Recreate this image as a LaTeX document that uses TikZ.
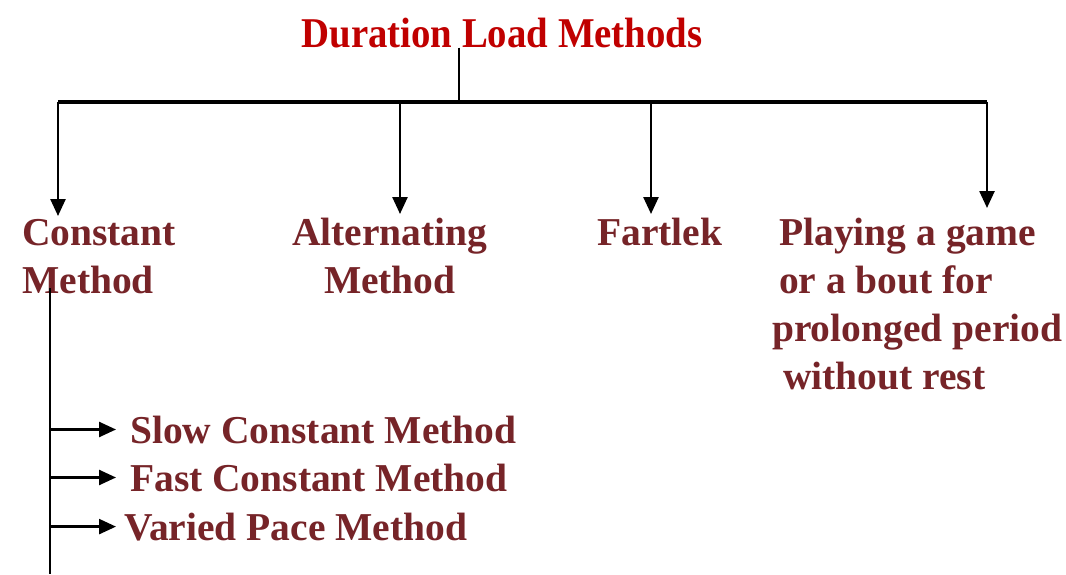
\documentclass[tikz,border=0pt]{standalone}
\usepackage{fontspec}
\setmainfont{Liberation Serif}
\usetikzlibrary{arrows.meta}
\definecolor{titlered}{RGB}{192,0,0}
\definecolor{labelmaroon}{RGB}{118,36,40}
\begin{document}
\begin{tikzpicture}[x=1pt,y=-1pt,
  lbl/.style={inner sep=0pt, text=labelmaroon,
    font=\fontsize{39.5}{48}\selectfont\bfseries, align=left},
  link/.style={line width=2.5pt, draw=black},
  drop/.style={link, -{Triangle[length=17pt,width=15pt]}}]
\useasboundingbox[fill=white] (0,0) rectangle (1066,574);

% heading
\node[anchor=base, inner sep=0pt, text=titlered,
  font=\fontsize{40}{48}\selectfont\bfseries] (title) at (502,47)
  {\scalebox{0.97}[1.06]{Duration Load Methods}};

% four methods (anchored on the baseline of their last line)
\node[lbl, anchor=base west] (constant) at (22,293) {Constant\\Method};
\node[lbl, anchor=base west, align=center] (alternating) at (292,293) {Alternating\\Method};
\node[lbl, anchor=base west] (fartlek) at (597,245) {Fartlek};
\node[lbl, anchor=base west] (game) at (779,389)
  {Playing a game\\or a bout for\\\hspace*{-7pt}prolonged period\\\hspace*{4pt}without rest};

% kinds of constant method
\node[lbl, anchor=base west] (slow) at (130,443) {Slow Constant Method};
\node[lbl, anchor=base west] (fast) at (130,491) {Fast Constant Method};
\node[lbl, anchor=base west] (varied) at (124,540) {Varied Pace Method};

% tree of connectors
\coordinate (hub) at (459,102);
\coordinate (barL) at (58,102);
\coordinate (barR) at (987,102);
\coordinate (tC) at (58,216);
\coordinate (tA) at (400,214);
\coordinate (tF) at (651,214);
\coordinate (tG) at (987,208);
\draw[link] (title.south -| hub) -- (hub);
\draw[link, line width=3.5pt] (barL) -- (barR);
\draw[drop] (barL) -- (tC);
\draw[drop] (hub -| tA) -- (tA);
\draw[drop] (hub -| tF) -- (tF);
\draw[drop] (barR) -- (tG);

% branch under the constant method
\coordinate (spine) at (50,288);
\coordinate (spineEnd) at (50,574);
\draw[link] (spine) -- (spineEnd);
\draw[drop] (spine |- slow.west) -- ([xshift=-14pt]slow.west);
\draw[drop] (spine |- fast.west) -- ([xshift=-14pt]fast.west);
\draw[drop] (spine |- varied.west) -- ([xshift=-8pt]varied.west);
\end{tikzpicture}
\end{document}
